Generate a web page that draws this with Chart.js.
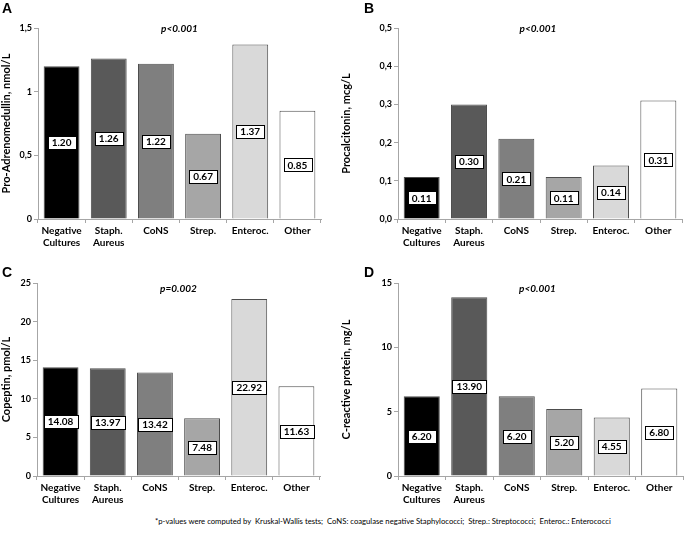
<!DOCTYPE html>
<html>
<head>
<meta charset="utf-8">
<script src="https://cdn.jsdelivr.net/npm/chart.js@4/dist/chart.umd.min.js"></script>
<style>
  html,body{margin:0;padding:0;background:#fff;}
  #wrap{position:relative;width:685px;height:538px;overflow:hidden;font-family:Lato,"Liberation Sans",sans-serif;}
  .panel{position:absolute;}
  .letter{position:absolute;font-family:"Liberation Sans",Arial,sans-serif;font-weight:bold;font-size:14px;line-height:14px;color:#000;}
  #foot{position:absolute;left:155px;top:516px;font-size:7.7px;color:#000;white-space:nowrap;font-family:Lato,"Liberation Sans",sans-serif;}
</style>
</head>
<body>
<div id="wrap">
  <canvas id="cA" class="panel" width="340" height="255" style="left:0;top:0"></canvas>
  <canvas id="cB" class="panel" width="345" height="255" style="left:340px;top:0"></canvas>
  <canvas id="cC" class="panel" width="340" height="255" style="left:0;top:260px"></canvas>
  <canvas id="cD" class="panel" width="345" height="255" style="left:340px;top:260px"></canvas>
  <div class="letter" style="left:2px;top:1px">A</div>
  <div class="letter" style="left:364px;top:1px">B</div>
  <div class="letter" style="left:2px;top:265px">C</div>
  <div class="letter" style="left:364px;top:265px">D</div>
  <div id="foot">*p-values were computed by&nbsp; Kruskal-Wallis tests;&nbsp; CoNS: coagulase negative Staphylococci;&nbsp; Strep.: Streptococci;&nbsp; Enteroc.: Enterococci</div>
</div>
<script>
const categories = [['Negative','Cultures'], ['Staph.','Aureus'], 'CoNS', 'Strep.', 'Enteroc.', 'Other'];
const proAdrenomedullin = [1.20, 1.26, 1.22, 0.67, 1.37, 0.85];
const procalcitonin = [0.11, 0.30, 0.21, 0.11, 0.14, 0.31];
const copeptin = [14.08, 13.97, 13.42, 7.48, 22.92, 11.63];
const cReactiveProtein = [6.20, 13.90, 6.20, 5.20, 4.55, 6.80];
const ticksA = ['0', '0,5', '1', '1,5'];
const ticksB = ['0,0', '0,1', '0,2', '0,3', '0,4', '0,5'];
const ticksC = ['0', '5', '10', '15', '20', '25'];
const ticksD = ['0', '5', '10', '15'];
const pValues = ['p<0.001', 'p<0.001', 'p=0.002', 'p<0.001'];
const yTitles = ['Pro-Adrenomedullin, nmol/L', 'Procalcitonin, mcg/L', 'Copeptin, pmol/L', 'C-reactive protein, mg/L'];
const barColors = ['#000000', '#595959', '#7f7f7f', '#a6a6a6', '#d9d9d9', '#ffffff'];

const FONT = 'Lato, "Liberation Sans", sans-serif';
const AXIS = '#a6a6a6';

const labelPlugin = {
  id: 'valueBoxes',
  afterDatasetsDraw(chart) {
    const ctx = chart.ctx;
    const meta = chart.getDatasetMeta(0);
    const ds = chart.data.datasets[0];
    const yScale = chart.scales.y;
    ctx.save();
    ctx.font = 'bold 10px ' + FONT;
    ctx.textAlign = 'center';
    ctx.textBaseline = 'middle';
    meta.data.forEach((bar, i) => {
      const v = ds.data[i];
      const txt = v.toFixed(2);
      const cy = yScale.getPixelForValue(v / 2);
      const cx = bar.x;
      const w = ctx.measureText(txt).width + 8;
      const h = 13;
      ctx.fillStyle = '#fff';
      ctx.fillRect(Math.round(cx - w / 2) + 0.5, Math.round(cy - h / 2) + 0.5, Math.round(w), h);
      ctx.strokeStyle = '#000';
      ctx.lineWidth = 1;
      ctx.strokeRect(Math.round(cx - w / 2) + 0.5, Math.round(cy - h / 2) + 0.5, Math.round(w), h);
      ctx.fillStyle = '#000';
      ctx.fillText(txt, cx, cy + 0.5);
    });
    ctx.restore();
  }
};

const pPlugin = {
  id: 'pText',
  afterDraw(chart, args, opts) {
    const ctx = chart.ctx;
    const a = chart.chartArea;
    ctx.save();
    ctx.font = 'italic bold 10px ' + FONT;
    ctx.textAlign = 'center';
    ctx.textBaseline = 'middle';
    ctx.fillStyle = '#000';
    ctx.fillText(opts.text, (a.left + a.right) / 2 + opts.dx, a.top + opts.dy);
    ctx.restore();
  }
};

function makePanel(id, values, max, step, tickLabels, title, pText, pDx, pDy, padTop, padRight, yWidth, xHeight) {
  new Chart(document.getElementById(id), {
    type: 'bar',
    data: {
      labels: categories,
      datasets: [{
        data: values,
        backgroundColor: barColors,
        borderColor: '#4d4d4d',
        borderWidth: 1,
        barPercentage: 0.76,
        categoryPercentage: 1.0
      }]
    },
    options: {
      responsive: false,
      animation: false,
      events: [],
      layout: { padding: { top: padTop, right: padRight, left: 0, bottom: 0 } },
      plugins: {
        legend: { display: false },
        tooltip: { enabled: false },
        title: { display: false },
        pText: { text: pText, dx: pDx, dy: pDy }
      },
      scales: {
        x: {
          offset: true,
          grid: { display: true, drawOnChartArea: false, offset: true, color: AXIS, tickLength: 4, tickWidth: 1 },
          border: { display: true, color: AXIS, width: 1 },
          ticks: { color: '#000', font: { family: FONT, weight: 'bold', size: 10 }, padding: 2, maxRotation: 0, autoSkip: false },
          afterFit(s) { s.height = xHeight; }
        },
        y: {
          min: 0, max: max,
          grid: { display: true, drawOnChartArea: false, color: AXIS, tickLength: 4 },
          border: { display: true, color: AXIS, width: 1 },
          ticks: {
            stepSize: step,
            color: '#000',
            padding: 2,
            font: { family: FONT, weight: 'bold', size: 9 },
            callback: (v, i) => tickLabels[i]
          },
          title: { display: true, text: title, color: '#000', font: { family: FONT, weight: 'bold', size: 11 }, padding: 0 },
          afterFit(s) { s.width = yWidth; }
        }
      }
    },
    plugins: [labelPlugin, pPlugin]
  });
}

makePanel('cA', proAdrenomedullin, 1.5, 0.5, ticksA, yTitles[0], pValues[0], 0, 1, 28, 19, 38, 36);
makePanel('cB', procalcitonin, 0.5, 0.1, ticksB, yTitles[1], pValues[1], -2, 1, 28, 3, 58, 36);
makePanel('cC', copeptin, 25, 5, ticksC, yTitles[2], pValues[2], 0, 6, 23, 20, 37, 39);
makePanel('cD', cReactiveProtein, 15, 5, ticksD, yTitles[3], pValues[3], -3, 6, 23, 2, 58, 39);
</script>
</body>
</html>
